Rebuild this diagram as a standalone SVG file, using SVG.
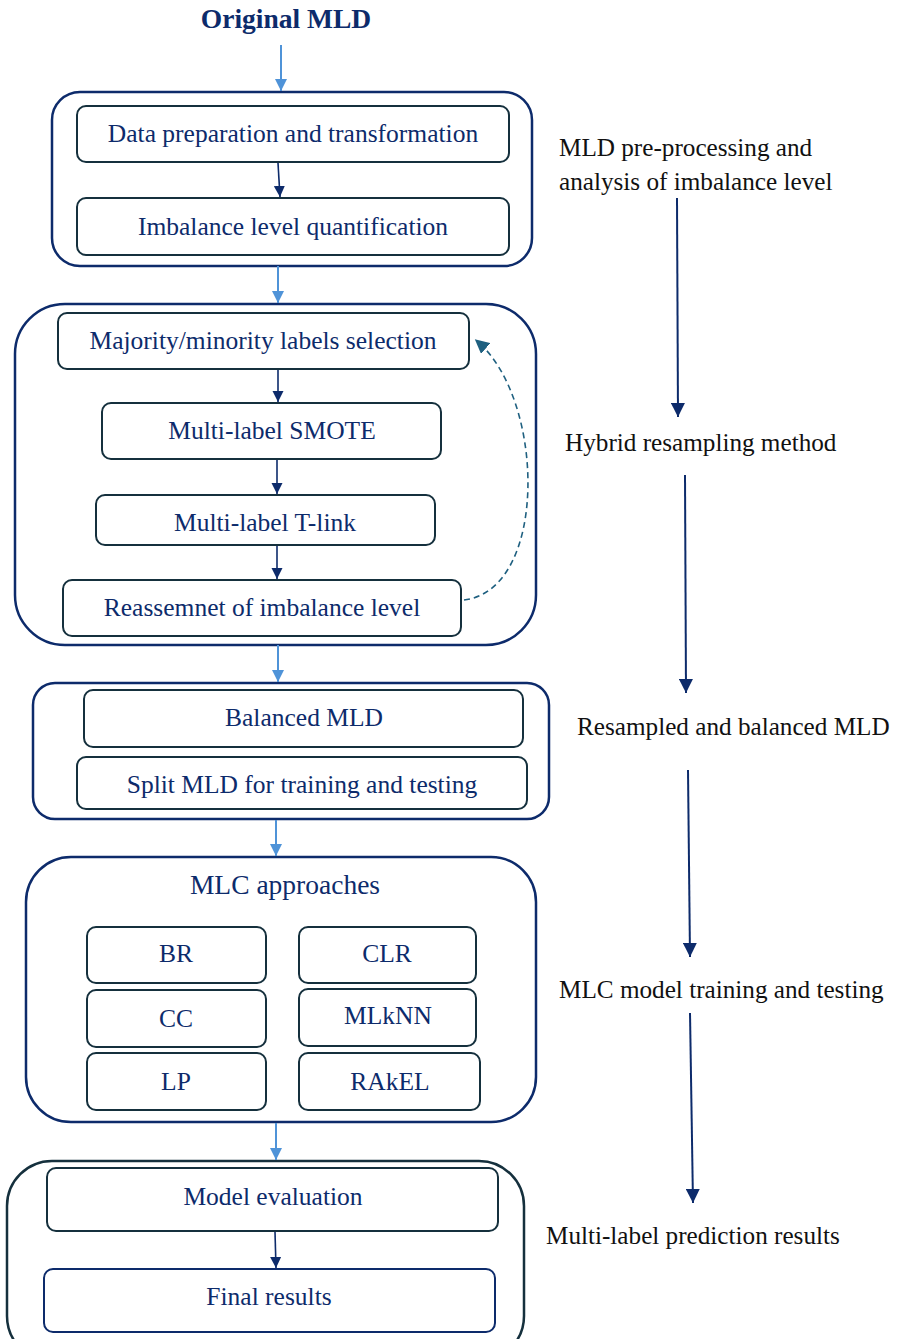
<svg xmlns="http://www.w3.org/2000/svg" width="899" height="1339" viewBox="0 0 899 1339">
<style>
.outer{fill:none;stroke:#0d2b6b;stroke-width:2.5}
.inner{fill:#fff;stroke:#15303d;stroke-width:2}
.t{font-family:'Liberation Serif','Times New Roman',serif;font-size:25.5px;fill:#0d2b6b;text-anchor:middle}
.side{font-family:'Liberation Serif','Times New Roman',serif;font-size:25.2px;fill:#111}
.blue{stroke:#4f93d8;stroke-width:2;fill:none;marker-end:url(#ab)}
.dark{stroke:#0d2b6b;stroke-width:1.6;fill:none;marker-end:url(#ad)}
.side-a{stroke:#0d2b6b;stroke-width:2;fill:none;marker-end:url(#ad)}
</style>
<defs>
<marker id="ab" viewBox="0 0 10 10" refX="10" refY="5" markerWidth="6" markerHeight="6" markerUnits="strokeWidth" orient="auto"><path d="M0,0 L10,5 L0,10 Z" fill="#4f93d8"/></marker>
<marker id="ad" viewBox="0 0 10 10" refX="10" refY="5" markerWidth="7" markerHeight="7" markerUnits="strokeWidth" orient="auto"><path d="M0,0 L10,5 L0,10 Z" fill="#0d2b6b"/></marker>
<marker id="at" viewBox="0 0 10 10" refX="8" refY="5" markerWidth="9" markerHeight="9" markerUnits="strokeWidth" orient="auto"><path d="M0,0 L10,5 L0,10 Z" fill="#1f6080"/></marker>
</defs>
<rect width="899" height="1339" fill="#fff"/>

<g id="title"><text x="286" y="28" class="t" style="font-weight:bold;font-size:27.5px">Original MLD</text></g>

<g id="group1">
<rect class="outer" x="52" y="92" width="480" height="174" rx="28"/>
<g id="n-data"><rect class="inner" x="77" y="106" width="432" height="56" rx="9"/><text class="t" x="293" y="142">Data preparation and transformation</text></g>
<g id="n-imb"><rect class="inner" x="77" y="198" width="432" height="57" rx="9"/><text class="t" x="293" y="235">Imbalance level quantification</text></g>
</g>

<g id="group2">
<rect class="outer" x="15" y="304" width="521" height="341" rx="50"/>
<g id="n-major"><rect class="inner" x="58" y="313" width="411" height="56" rx="9"/><text class="t" x="263" y="349">Majority/minority labels selection</text></g>
<g id="n-smote"><rect class="inner" x="102" y="403" width="339" height="56" rx="9"/><text class="t" x="272" y="439">Multi-label SMOTE</text></g>
<g id="n-tlink"><rect class="inner" x="96" y="495" width="339" height="50" rx="9"/><text class="t" x="265" y="531">Multi-label T-link</text></g>
<g id="n-reass"><rect class="inner" x="63" y="580" width="398" height="56" rx="9"/><text class="t" x="262" y="616">Reassemnet of imbalance level</text></g>
</g>

<g id="group3">
<rect class="outer" x="33" y="683" width="516" height="136" rx="22"/>
<g id="n-bal"><rect class="inner" x="84" y="690" width="439" height="57" rx="9"/><text class="t" x="304" y="726">Balanced MLD</text></g>
<g id="n-split"><rect class="inner" x="77" y="757" width="450" height="52" rx="9"/><text class="t" x="302" y="793">Split MLD for training and testing</text></g>
</g>

<g id="group4">
<rect class="outer" x="26" y="857" width="510" height="265" rx="45"/>
<text class="t" x="285" y="894" style="font-size:27.5px">MLC approaches</text>
<g id="n-br"><rect class="inner" x="87" y="927" width="179" height="56" rx="9"/><text class="t" x="176" y="962">BR</text></g>
<g id="n-clr"><rect class="inner" x="299" y="927" width="177" height="56" rx="9"/><text class="t" x="387" y="962">CLR</text></g>
<g id="n-cc"><rect class="inner" x="87" y="990" width="179" height="57" rx="9"/><text class="t" x="176" y="1027">CC</text></g>
<g id="n-mlknn"><rect class="inner" x="299" y="989" width="177" height="57" rx="9"/><text class="t" x="388" y="1024">MLkNN</text></g>
<g id="n-lp"><rect class="inner" x="87" y="1053" width="179" height="57" rx="9"/><text class="t" x="176" y="1090">LP</text></g>
<g id="n-rakel"><rect class="inner" x="299" y="1053" width="181" height="57" rx="9"/><text class="t" x="390" y="1090">RAkEL</text></g>
</g>

<g id="group5">
<rect class="outer" x="7" y="1161" width="517" height="200" rx="45" style="stroke:#15303d"/>
<g id="n-eval"><rect class="inner" x="47" y="1168" width="451" height="63" rx="9"/><text class="t" x="273" y="1205">Model evaluation</text></g>
<g id="n-final"><rect class="inner" x="44" y="1269" width="451" height="63" rx="9" style="stroke:#0d2b6b"/><text class="t" x="269" y="1305">Final results</text></g>
</g>

<g id="side-labels">
<text class="side" x="559" y="156">MLD pre-processing and</text>
<text class="side" x="559" y="190">analysis of imbalance level</text>
<text class="side" x="565" y="451">Hybrid resampling method</text>
<text class="side" x="577" y="735">Resampled and balanced MLD</text>
<text class="side" x="559" y="998">MLC model training and testing</text>
<text class="side" x="546" y="1244">Multi-label prediction results</text>
</g>

<g id="connectors">
<line class="blue" x1="281" y1="45" x2="281" y2="91"/>
<line class="blue" x1="278" y1="266" x2="278" y2="303"/>
<line class="blue" x1="278" y1="645" x2="278" y2="682"/>
<line class="blue" x1="276" y1="820" x2="276" y2="856"/>
<line class="blue" x1="276" y1="1123" x2="276" y2="1160"/>
<line class="dark" x1="278" y1="163" x2="280" y2="197"/>
<line class="dark" x1="278" y1="370" x2="278" y2="402"/>
<line class="dark" x1="277" y1="460" x2="277" y2="494"/>
<line class="dark" x1="277" y1="546" x2="277" y2="579"/>
<line class="dark" x1="275" y1="1232" x2="276" y2="1268"/>
<path d="M464,600 C548,590 546,400 477,341" fill="none" stroke="#1f6080" stroke-width="1.6" stroke-dasharray="6,4" marker-end="url(#at)"/>
<line class="side-a" x1="677" y1="198" x2="678" y2="417"/>
<line class="side-a" x1="685" y1="475" x2="686" y2="693"/>
<line class="side-a" x1="688" y1="770" x2="690" y2="957"/>
<line class="side-a" x1="690" y1="1013" x2="693" y2="1203"/>
</g>
</svg>
